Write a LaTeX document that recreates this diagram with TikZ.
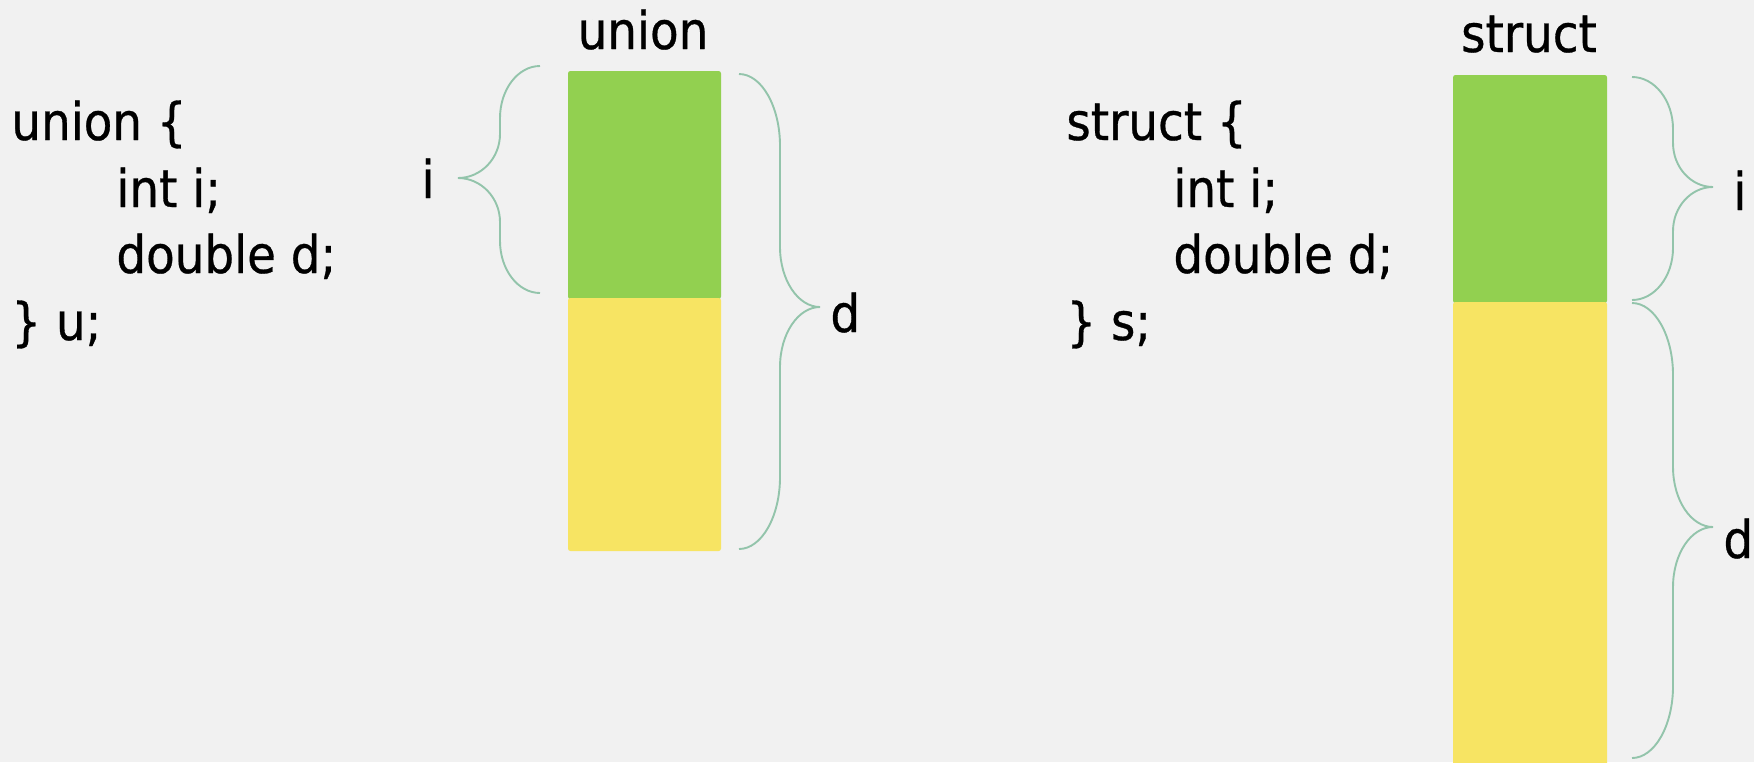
\documentclass[tikz,border=0pt]{standalone}
\usepackage{fontspec}
\setmainfont{DejaVu Sans}[FakeStretch=0.90,FakeBold=0.6]
\definecolor{bgC}{HTML}{F1F1F1}
\definecolor{greenC}{HTML}{92D050}
\definecolor{yellowC}{HTML}{F7E463}
\definecolor{braceC}{HTML}{93C4AB}
\newcommand{\cbrace}[8]{%
 \draw[brc] (#1,#2) .. controls ({#1+0.55*(#4-#1)},#2) and (#4,{#2+0.45*#7}) .. (#4,{#2+#7})
   -- (#4,{#6-#8}) .. controls (#4,{#6-0.45*#8}) and ({#5-0.55*(#5-#4)},#6) .. (#5,#6)
   .. controls ({#5-0.55*(#5-#4)},#6) and (#4,{#6+0.45*#8}) .. (#4,{#6+#8})
   -- (#4,{#3-#7}) .. controls (#4,{#3-0.45*#7}) and ({#1+0.55*(#4-#1)},#3) .. (#1,#3);}
\begin{document}
\begin{tikzpicture}[x=0.5pt,y=-0.5pt,
  txt/.style={inner sep=0pt, anchor=base west, font=\fontsize{26}{30}\selectfont},
  lbl/.style={inner sep=0pt, anchor=base, font=\fontsize{26}{30}\selectfont},
  brc/.style={draw=braceC, line width=0.95pt},
  cell/.style={rounded corners=1.2pt}]
\fill[bgC] (0,0) rectangle (1754,762);
\useasboundingbox (0,0) rectangle (1754,762);
\clip (0,0) rectangle (1754,762);
% union cells
\fill[greenC, cell] (568,71) rectangle (721,299);
\fill[yellowC, cell] (568,298) rectangle (721,551);
% struct cells
\fill[greenC, cell] (1453,75) rectangle (1607,303);
\fill[yellowC, cell] (1453,302) rectangle (1607,775);
% braces
\cbrace{540}{66}{293}{500}{458}{178}{52}{44}
\cbrace{739}{74}{549}{780}{820}{307}{72}{60}
\cbrace{1632}{77}{300}{1673}{1713}{187}{52}{44}
\cbrace{1632}{303}{758}{1673}{1713}{527}{72}{60}
% titles
\node[lbl] (tu) at (643,49) {union};
\node[lbl] (ts) at (1529,52) {struct};
% brace labels
\node[lbl] (ui) at (428,198) {i};
\node[txt] (ud) at (830,332) {d};
\node[txt] (si) at (1733,210) {i};
\node[txt] (sd) at (1723,558) {d};
% code
\node[txt] (u1) at (11,140) {union \{};
\node[txt] (u2) at (116,207) {int i;};
\node[txt] (u3) at (116,273) {double d;};
\node[txt] (u4) at (11,340) {\} u;};
\node[txt] (s1) at (1066,140) {struct \{};
\node[txt] (s2) at (1173,207) {int i;};
\node[txt] (s3) at (1173,273) {double d;};
\node[txt] (s4) at (1066,340) {\} s;};
\end{tikzpicture}
\end{document}
